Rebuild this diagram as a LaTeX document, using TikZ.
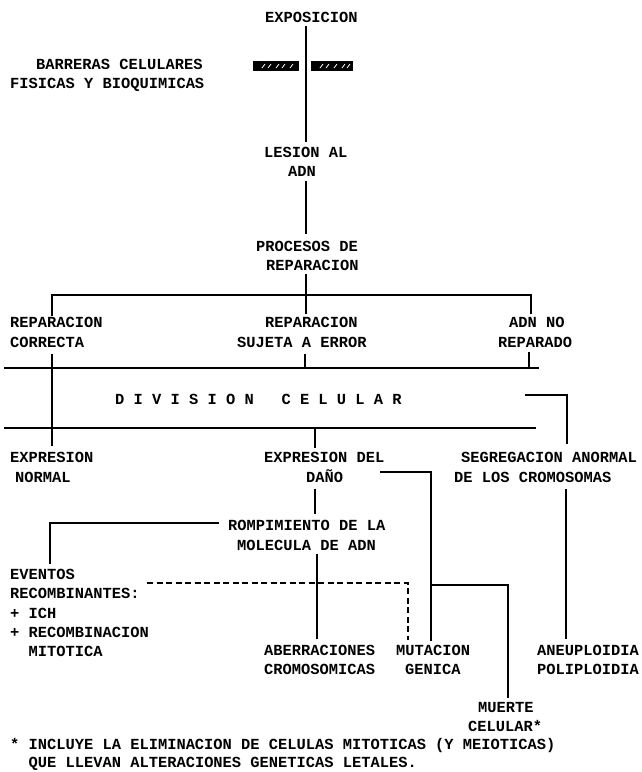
\documentclass[tikz,border=0pt]{standalone}
\usepackage{fontspec}
\newfontfamily\twfont{Liberation Mono}
\begin{document}
\begin{tikzpicture}[x=1pt,y=-1pt,
  t/.style={anchor=base west, inner sep=0pt, font=\twfont\bfseries\fontsize{15.4}{19}\selectfont},
  ln/.style={line width=2.6pt, line cap=rect},
  dsh/.style={line width=2.4pt, dash pattern=on 6pt off 3.5pt},
  blk/.style={fill=black, draw=none}]
\useasboundingbox (0,0) rectangle (642,772);
% texts
\node[t] (expo) at (265,22) {EXPOSICION};
\node[t] (barr1) at (36,69.5) {BARRERAS CELULARES};
\node[t] (barr2) at (10,88.5) {FISICAS Y BIOQUIMICAS};
\node[t] (les1) at (264,157.5) {LESION AL};
\node[t] (les2) at (288,176.5) {ADN};
\node[t] (pro1) at (256,251.5) {PROCESOS DE};
\node[t] (pro2) at (266,270.5) {REPARACION};
\node[t] (rc1) at (10,327.5) {REPARACION};
\node[t] (rc2) at (10,347.5) {CORRECTA};
\node[t] (re1) at (265,327.5) {REPARACION};
\node[t] (re2) at (237,347.5) {SUJETA A ERROR};
\node[t] (nr1) at (509,327.5) {ADN NO};
\node[t] (nr2) at (498,347.5) {REPARADO};
\node[t] (div) at (115,404.5) {D I V I S I O N\phantom{XX} C E L U L A R};
\node[t] (en1) at (10,462.5) {EXPRESION};
\node[t] (en2) at (15,482.5) {NORMAL};
\node[t] (ed1) at (264,462.5) {EXPRESION DEL};
\node[t] (ed2) at (306,482.5) {DAÑO};
\node[t] (sg1) at (461,462.5) {SEGREGACION ANORMAL};
\node[t] (sg2) at (454,482.5) {DE LOS CROMOSOMAS};
\node[t] (ro1) at (228,530.5) {ROMPIMIENTO DE LA};
\node[t] (ro2) at (237,550.5) {MOLECULA DE ADN};
\node[t] (ev1) at (10,579.5) {EVENTOS};
\node[t] (ev2) at (10,598.5) {RECOMBINANTES:};
\node[t] (ev3) at (10,618) {+ ICH};
\node[t] (ev4) at (10,637.5) {+ RECOMBINACION};
\node[t] (ev5) at (28.5,656.5) {MITOTICA};
\node[t] (ab1) at (264,655.5) {ABERRACIONES};
\node[t] (ab2) at (264,674.5) {CROMOSOMICAS};
\node[t] (mu1) at (396,655.5) {MUTACION};
\node[t] (mu2) at (405,674.5) {GENICA};
\node[t] (an1) at (537,655.5) {ANEUPLOIDIA};
\node[t] (an2) at (537,674.5) {POLIPLOIDIA};
\node[t] (mc1) at (478,712.5) {MUERTE};
\node[t] (mc2) at (468,731.5) {CELULAR*};
\node[t] (fn1) at (10,749.5) {* INCLUYE LA ELIMINACION DE CELULAS MITOTICAS (Y MEIOTICAS)};
\node[t] (fn2) at (28.5,767.5) {QUE LLEVAN ALTERACIONES GENETICAS LETALES.};
% barriers
\node[blk, minimum width=46pt, minimum height=10pt, inner sep=0pt, anchor=north west] (bl) at (253,61) {};
\node[blk, minimum width=42pt, minimum height=10pt, inner sep=0pt, anchor=north west] (br) at (311,61) {};
\foreach \x in {262,268,276,282,290} \draw[white, line width=0.8pt] (\x,68) -- (\x+3,64);
\foreach \x in {320,326,334,342,347} \draw[white, line width=0.8pt] (\x,68) -- (\x+3,64);
% coordinates
\coordinate (a0) at (306,27); \coordinate (a1) at (306,141);
\coordinate (b0) at (306,182); \coordinate (b1) at (306,233);
\coordinate (c0) at (306,275); \coordinate (c1) at (306,313);
\coordinate (l1) at (52,295); \coordinate (r1) at (531,295);
\coordinate (l1d) at (52,315); \coordinate (r1d) at (531,313);
\coordinate (lc0) at (52,355); \coordinate (lc1) at (52,445);
\coordinate (m20) at (305,355); \coordinate (m21) at (305,368);
\coordinate (r20) at (529,353); \coordinate (r21) at (529,368);
\coordinate (bar2l) at (5,368); \coordinate (bar2r) at (538,368);
\coordinate (bk0) at (526,395); \coordinate (bk1) at (567,395); \coordinate (bk2) at (567,443);
\coordinate (bar3l) at (5,428); \coordinate (bar3r) at (535,428);
\coordinate (m30) at (315,428); \coordinate (m31) at (315,447);
\coordinate (d0) at (315,490); \coordinate (d1) at (315,513);
\coordinate (h0) at (218,523); \coordinate (h1) at (50,523); \coordinate (h2) at (50,563);
\coordinate (v0) at (317,555); \coordinate (v1) at (317,638);
\coordinate (k0) at (381,472); \coordinate (k1) at (431,472); \coordinate (k2) at (431,640);
\coordinate (k3) at (431,585); \coordinate (k4) at (508,585); \coordinate (k5) at (508,697);
\coordinate (s0) at (566,490); \coordinate (s1) at (566,638);
\coordinate (q0) at (147,583); \coordinate (q1) at (408,583); \coordinate (q2) at (408,640);
% connectors
\draw[ln] (a0) -- (a1);
\draw[ln] (b0) -- (b1);
\draw[ln] (c0) -- (c1);
\draw[ln] (l1d) -- (l1) -- (r1) -- (r1d);
\draw[ln] (lc0) -- (lc1);
\draw[ln] (m20) -- (m21);
\draw[ln] (r20) -- (r21);
\draw[ln] (bar2l) -- (bar2r);
\draw[ln] (bk0) -- (bk1) -- (bk2);
\draw[ln] (bar3l) -- (bar3r);
\draw[ln] (m30) -- (m31);
\draw[ln] (d0) -- (d1);
\draw[ln] (h0) -- (h1) -- (h2);
\draw[ln] (v0) -- (v1);
\draw[ln] (k0) -- (k1) -- (k2);
\draw[ln] (k3) -- (k4) -- (k5);
\draw[ln] (s0) -- (s1);
\draw[dsh] (q0) -- (q1) -- (q2);
\end{tikzpicture}
\end{document}
